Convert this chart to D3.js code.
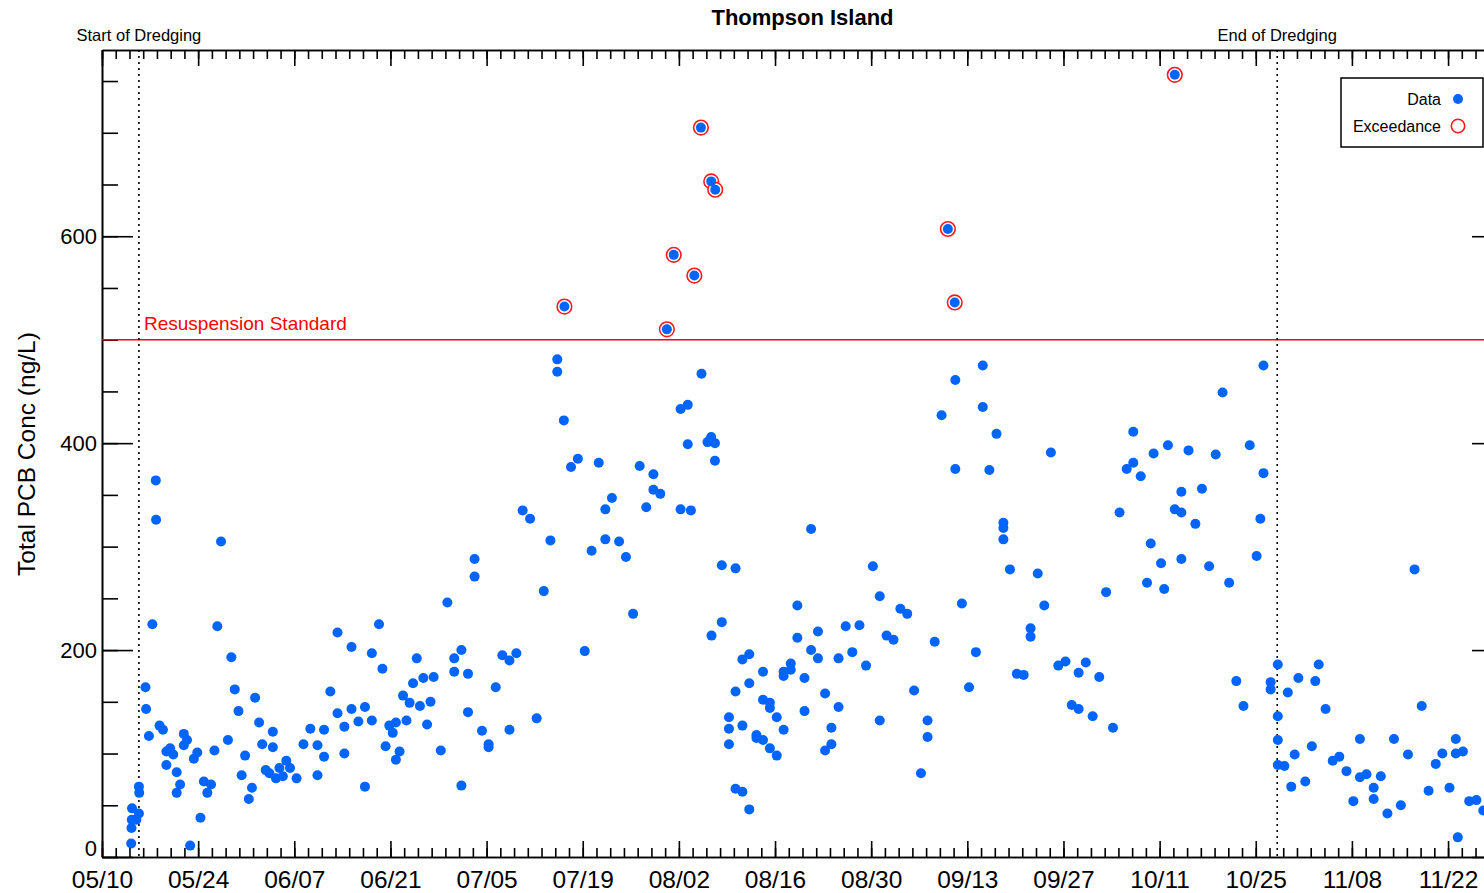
<!doctype html>
<html>
<head>
<meta charset="utf-8">
<script src="https://d3js.org/d3.v7.min.js"></script>
<style>
  body { margin:0; background:#fff; }
  svg text { font-family:"Liberation Sans", Arial, sans-serif; fill:#000; }
  .axis path.domain { stroke:#000; stroke-width:1.6px; }
  .axis line { stroke:#000; stroke-width:1.6px; }
</style>
</head>
<body>
<svg id="chart" width="1484" height="893"></svg>
<script>
var year = 2009;
var title = 'Thompson Island';
var yTitle = 'Total PCB Conc (ng/L)';
var standard = 500;
var standardLabel = 'Resuspension Standard';
var dredgeStart = '05/15 09';
var dredgeEnd = '10/28 03';
var xTickLabels = ['05/10','05/24','06/07','06/21','07/05','07/19','08/02','08/16',
                   '08/30','09/13','09/27','10/11','10/25','11/08','11/22'];
var yTickLabels = [0,200,400,600];
var legendLabels = ['Data','Exceedance'];

// sample time (mm/dd hh), total PCB (ng/L)
var samples = [
['05/14 06',13],['05/14 07',28],['05/14 08',36],['05/14 09',47],
['05/15 00',36],['05/15 09',42],['05/15 09',68],['05/15 10',62],
['05/16 08',164],['05/16 10',143],['05/16 20',117],
['05/17 08',225],['05/17 20',364],['05/17 21',326],
['05/18 09',127],['05/18 21',123],
['05/19 09',102],['05/19 09',89],['05/19 22',105],
['05/20 09',99],['05/20 21',82],['05/20 21',62],
['05/21 09',70],['05/21 22',119],['05/21 22',108],
['05/22 09',113],['05/22 20',11],
['05/23 09',95],['05/23 21',101],
['05/24 08',38],['05/24 20',73],
['05/25 08',62],['05/25 21',70],
['05/26 09',103],['05/26 19',223],
['05/27 08',305],
['05/28 08',113],['05/28 20',193],
['05/29 08',162],['05/29 21',141],
['05/30 08',79],['05/30 20',98],
['05/31 09',56],['05/31 20',67],
['06/01 07',154],['06/01 21',130],
['06/02 08',109],['06/02 20',84],
['06/03 09',81],['06/03 21',121],['06/03 21',106],
['06/04 08',76],['06/04 20',86],
['06/05 08',78],['06/05 20',93],
['06/06 09',86],
['06/07 08',76],
['06/08 08',109],
['06/09 08',124],
['06/10 09',108],['06/10 09',79],
['06/11 08',123],['06/11 08',97],
['06/12 06',160],
['06/13 07',217],['06/13 07',139],
['06/14 07',126],['06/14 07',100],
['06/15 08',203],['06/15 08',143],
['06/16 08',131],
['06/17 07',145],['06/17 07',68],
['06/18 07',197],['06/18 07',132],
['06/19 08',225],['06/19 20',182],
['06/20 07',107],['06/20 20',127],
['06/21 08',120],['06/21 19',130],['06/21 19',94],
['06/22 08',102],['06/22 20',156],
['06/23 08',132],['06/23 19',149],
['06/24 07',168],['06/24 20',192],
['06/25 07',146],['06/25 19',173],
['06/26 08',128],['06/26 20',150],
['06/27 07',174],
['06/28 08',103],
['06/29 07',246],
['06/30 07',192],['06/30 07',179],
['07/01 08',200],['07/01 08',69],
['07/02 07',177],['07/02 07',140],
['07/03 06',288],['07/03 06',271],
['07/04 08',122],
['07/05 07',109],['07/05 07',106],
['07/06 08',164],
['07/07 07',195],
['07/08 08',190],['07/08 08',123],
['07/09 08',197],
['07/10 06',335],
['07/11 08',327],
['07/12 07',134],
['07/13 08',257],
['07/14 07',306],
['07/15 07',481],['07/15 07',469],
['07/16 06',422],['07/16 08',532],
['07/17 07',377],
['07/18 07',385],
['07/19 07',199],
['07/20 07',296],
['07/21 08',381],
['07/22 07',336],['07/22 07',307],
['07/23 06',347],
['07/24 07',305],
['07/25 07',290],
['07/26 08',235],
['07/27 07',378],
['07/28 06',338],
['07/29 07',370],['07/29 07',355],
['07/30 07',351],
['07/31 06',510],
['08/01 06',582],
['08/02 06',433],['08/02 06',336],
['08/03 07',437],['08/03 07',399],['08/03 18',335],
['08/04 06',562],
['08/05 05',705],['08/05 07',467],
['08/06 04',401],['08/06 17',406],['08/06 17',653],['08/06 18',214],
['08/07 06',400],['08/07 06',383],['08/07 07',645],
['08/08 06',282],['08/08 06',227],
['08/09 07',135],['08/09 07',124],['08/09 07',109],
['08/10 06',279],['08/10 06',160],['08/10 06',66],
['08/11 06',191],['08/11 06',127],['08/11 06',63],
['08/12 06',196],['08/12 06',168],['08/12 06',46],
['08/13 07',118],['08/13 07',115],
['08/14 06',179],['08/14 06',152],['08/14 06',113],
['08/15 06',149],['08/15 06',144],['08/15 06',105],
['08/16 06',135],['08/16 06',98],
['08/17 06',179],['08/17 06',175],['08/17 06',123],
['08/18 07',187],['08/18 07',181],
['08/19 06',243],['08/19 06',212],
['08/20 07',173],['08/20 07',141],
['08/21 06',317],['08/21 06',200],
['08/22 06',218],['08/22 06',192],
['08/23 07',158],['08/23 07',103],
['08/24 05',125],['08/24 05',109],
['08/25 06',192],['08/25 06',145],
['08/26 07',223],
['08/27 06',198],
['08/28 07',224],
['08/29 06',185],
['08/30 06',281],
['08/31 06',252],['08/31 06',132],
['09/01 06',214],
['09/02 06',210],
['09/03 06',240],
['09/04 06',235],
['09/05 06',161],
['09/06 06',81],
['09/07 05',132],['09/07 05',116],
['09/08 06',208],
['09/09 06',427],
['09/10 04',607],
['09/11 04',536],['09/11 06',461],['09/11 06',375],
['09/12 05',245],
['09/13 06',164],
['09/14 06',198],
['09/15 06',475],['09/15 06',435],
['09/16 05',374],
['09/17 06',409],
['09/18 06',323],['09/18 06',318],['09/18 06',307],
['09/19 05',278],
['09/20 05',177],
['09/21 05',176],
['09/22 05',221],['09/22 05',213],
['09/23 06',274],
['09/24 05',243],
['09/25 04',391],
['09/26 06',185],
['09/27 07',189],
['09/28 05',147],
['09/29 05',178],['09/29 05',143],
['09/30 06',188],
['10/01 06',136],
['10/02 05',174],
['10/03 05',256],
['10/04 05',125],
['10/05 04',333],
['10/06 05',375],
['10/07 04',411],['10/07 04',381],
['10/08 06',368],
['10/09 04',265],['10/09 17',303],
['10/10 03',390],
['10/11 05',284],['10/11 16',259],
['10/12 05',398],
['10/13 05',756],['10/13 05',336],
['10/14 04',353],['10/14 04',333],['10/14 04',288],
['10/15 05',393],
['10/16 05',322],
['10/17 04',356],
['10/18 05',281],
['10/19 04',389],
['10/20 04',449],
['10/21 03',265],
['10/22 04',170],
['10/23 05',146],
['10/24 03',398],
['10/25 03',291],['10/25 16',327],
['10/26 03',475],['10/26 03',371],
['10/27 04',169],['10/27 04',162],
['10/28 05',186],['10/28 05',136],['10/28 05',113],['10/28 05',89],
['10/29 04',88],['10/29 16',159],
['10/30 04',68],['10/30 16',99],
['10/31 05',173],
['11/01 05',73],
['11/02 04',107],['11/02 16',170],
['11/03 04',186],
['11/04 04',143],
['11/05 05',93],
['11/06 04',97],
['11/07 05',83],
['11/08 05',54],
['11/09 04',114],['11/09 04',77],
['11/10 03',80],
['11/11 04',67],['11/11 04',56],
['11/12 05',78],
['11/13 04',42],
['11/14 03',114],
['11/15 03',50],
['11/16 04',99],
['11/17 03',278],
['11/18 04',146],
['11/19 04',64],
['11/20 05',90],
['11/21 04',100],
['11/22 05',67],
['11/23 03',114],['11/23 03',100],['11/23 10',19],
['11/24 04',102],
['11/25 02',54],
['11/26 03',55],
['11/27 03',45]
];

var parseT = d3.timeParse('%Y/%m/%d %H');
var t = function(s){ return parseT(year + '/' + s); };

var xLeft = 102, xRight = 1503, yTop = 50, yBot = 857;
var svg = d3.select('#chart');

var x = d3.scaleTime().domain([t('05/10 00'), t('11/30 00')]).range([xLeft, xRight]);
var y = d3.scaleLinear().domain([0, 780]).range([yBot, yTop]);

var majorX = xTickLabels.map(function(s){ return t(s + ' 00'); });
var minorX = d3.timeDay.range(t('05/10 00'), t('11/30 01'), 2);
var minorY = d3.range(0, 781, 50);

function noText(){ return ''; }

// bottom axis
svg.append('g').attr('class','axis').attr('transform','translate(0,'+yBot+')')
  .call(d3.axisBottom(x).tickValues(minorX).tickSize(-9).tickSizeOuter(0).tickFormat(noText));
svg.append('g').attr('class','axis xlab').attr('transform','translate(0,'+yBot+')')
  .call(d3.axisBottom(x).tickValues(majorX).tickSize(-16).tickSizeOuter(0).tickPadding(14)
        .tickFormat(d3.timeFormat('%m/%d')));
// top axis
svg.append('g').attr('class','axis').attr('transform','translate(0,'+yTop+')')
  .call(d3.axisTop(x).tickValues(minorX).tickSize(-9).tickSizeOuter(0).tickFormat(noText));
svg.append('g').attr('class','axis').attr('transform','translate(0,'+yTop+')')
  .call(d3.axisTop(x).tickValues(majorX).tickSize(-16).tickSizeOuter(0).tickFormat(noText));
// left axis
svg.append('g').attr('class','axis').attr('transform','translate('+xLeft+',0)')
  .call(d3.axisLeft(y).tickValues(minorY).tickSize(-16).tickSizeOuter(0).tickFormat(noText));
svg.append('g').attr('class','axis ylab').attr('transform','translate('+xLeft+',0)')
  .call(d3.axisLeft(y).tickValues(yTickLabels).tickSize(-31).tickSizeOuter(0).tickPadding(5));
// right axis (sits just past the picture edge)
svg.append('g').attr('class','axis').attr('transform','translate('+xRight+',0)')
  .call(d3.axisRight(y).tickValues(minorY).tickSize(-16).tickSizeOuter(0).tickFormat(noText));
svg.append('g').attr('class','axis').attr('transform','translate('+xRight+',0)')
  .call(d3.axisRight(y).tickValues(yTickLabels).tickSize(-31).tickSizeOuter(0).tickFormat(noText));

svg.selectAll('g.axis').attr('font-family', null).attr('font-size', null);
svg.selectAll('g.xlab text').style('font-size','24.5px');
svg.selectAll('g.ylab text').style('font-size','22px');
// IDL lifts the zero label off the x axis
svg.selectAll('g.ylab g.tick').filter(function(d){ return d === 0; })
  .select('text').attr('dy','-0.05em');

// standard line
svg.append('line')
  .attr('x1', xLeft).attr('x2', xRight)
  .attr('y1', y(standard)).attr('y2', y(standard))
  .style('stroke','#ff0000').style('stroke-width','1.5px');
svg.append('text').attr('x', 144).attr('y', y(standard) - 10)
  .style('fill','#ff0000').style('font-size','19px').text(standardLabel);

// dredging period
[[dredgeStart,'Start of Dredging'],[dredgeEnd,'End of Dredging']].forEach(function(d){
  var xx = x(t(d[0]));
  svg.append('line').attr('x1', xx).attr('x2', xx).attr('y1', yTop).attr('y2', yBot)
    .style('stroke','#000').style('stroke-width','1.6px').style('stroke-dasharray','2,4');
  svg.append('text').attr('x', xx).attr('y', yTop - 9).attr('text-anchor','middle')
    .style('font-size','16.5px').text(d[1]);
});

// exceedance rings, then the data
var over = samples.filter(function(d){ return d[1] > standard; });
svg.selectAll('circle.exceed').data(over).enter()
  .append('circle').attr('class','exceed')
  .attr('cx', function(d){ return x(t(d[0])); })
  .attr('cy', function(d){ return y(d[1]); })
  .attr('r', 7.3)
  .style('fill','#fff').style('stroke','#ff1a1a').style('stroke-width','1.6px');
svg.selectAll('circle.pt').data(samples).enter()
  .append('circle').attr('class','pt')
  .attr('cx', function(d){ return x(t(d[0])); })
  .attr('cy', function(d){ return y(d[1]); })
  .attr('r', 5)
  .style('fill','#0064ff');

// titles
svg.append('text').attr('x', (xLeft + xRight) / 2).attr('y', 25).attr('text-anchor','middle')
  .style('font-size','22px').style('font-weight','bold').text(title);
svg.append('text').attr('transform','translate(35,454) rotate(-90)').attr('text-anchor','middle')
  .style('font-size','24.5px').text(yTitle);

// legend
var lg = svg.append('g').attr('transform','translate(1341,78)');
lg.append('rect').attr('width', 142).attr('height', 69)
  .style('fill','#fff').style('stroke','#000').style('stroke-width','1.5px');
lg.selectAll('text').data(legendLabels).enter().append('text')
  .attr('x', 100).attr('y', function(d,i){ return 21 + i * 27; }).attr('dy','0.35em')
  .attr('text-anchor','end').style('font-size','16px')
  .text(function(d){ return d; });
lg.append('circle').attr('cx', 117).attr('cy', 21).attr('r', 5).style('fill','#0064ff');
lg.append('circle').attr('cx', 117).attr('cy', 48).attr('r', 6.7)
  .style('fill','none').style('stroke','#ff1a1a').style('stroke-width','1.6px');
</script>
</body>
</html>
